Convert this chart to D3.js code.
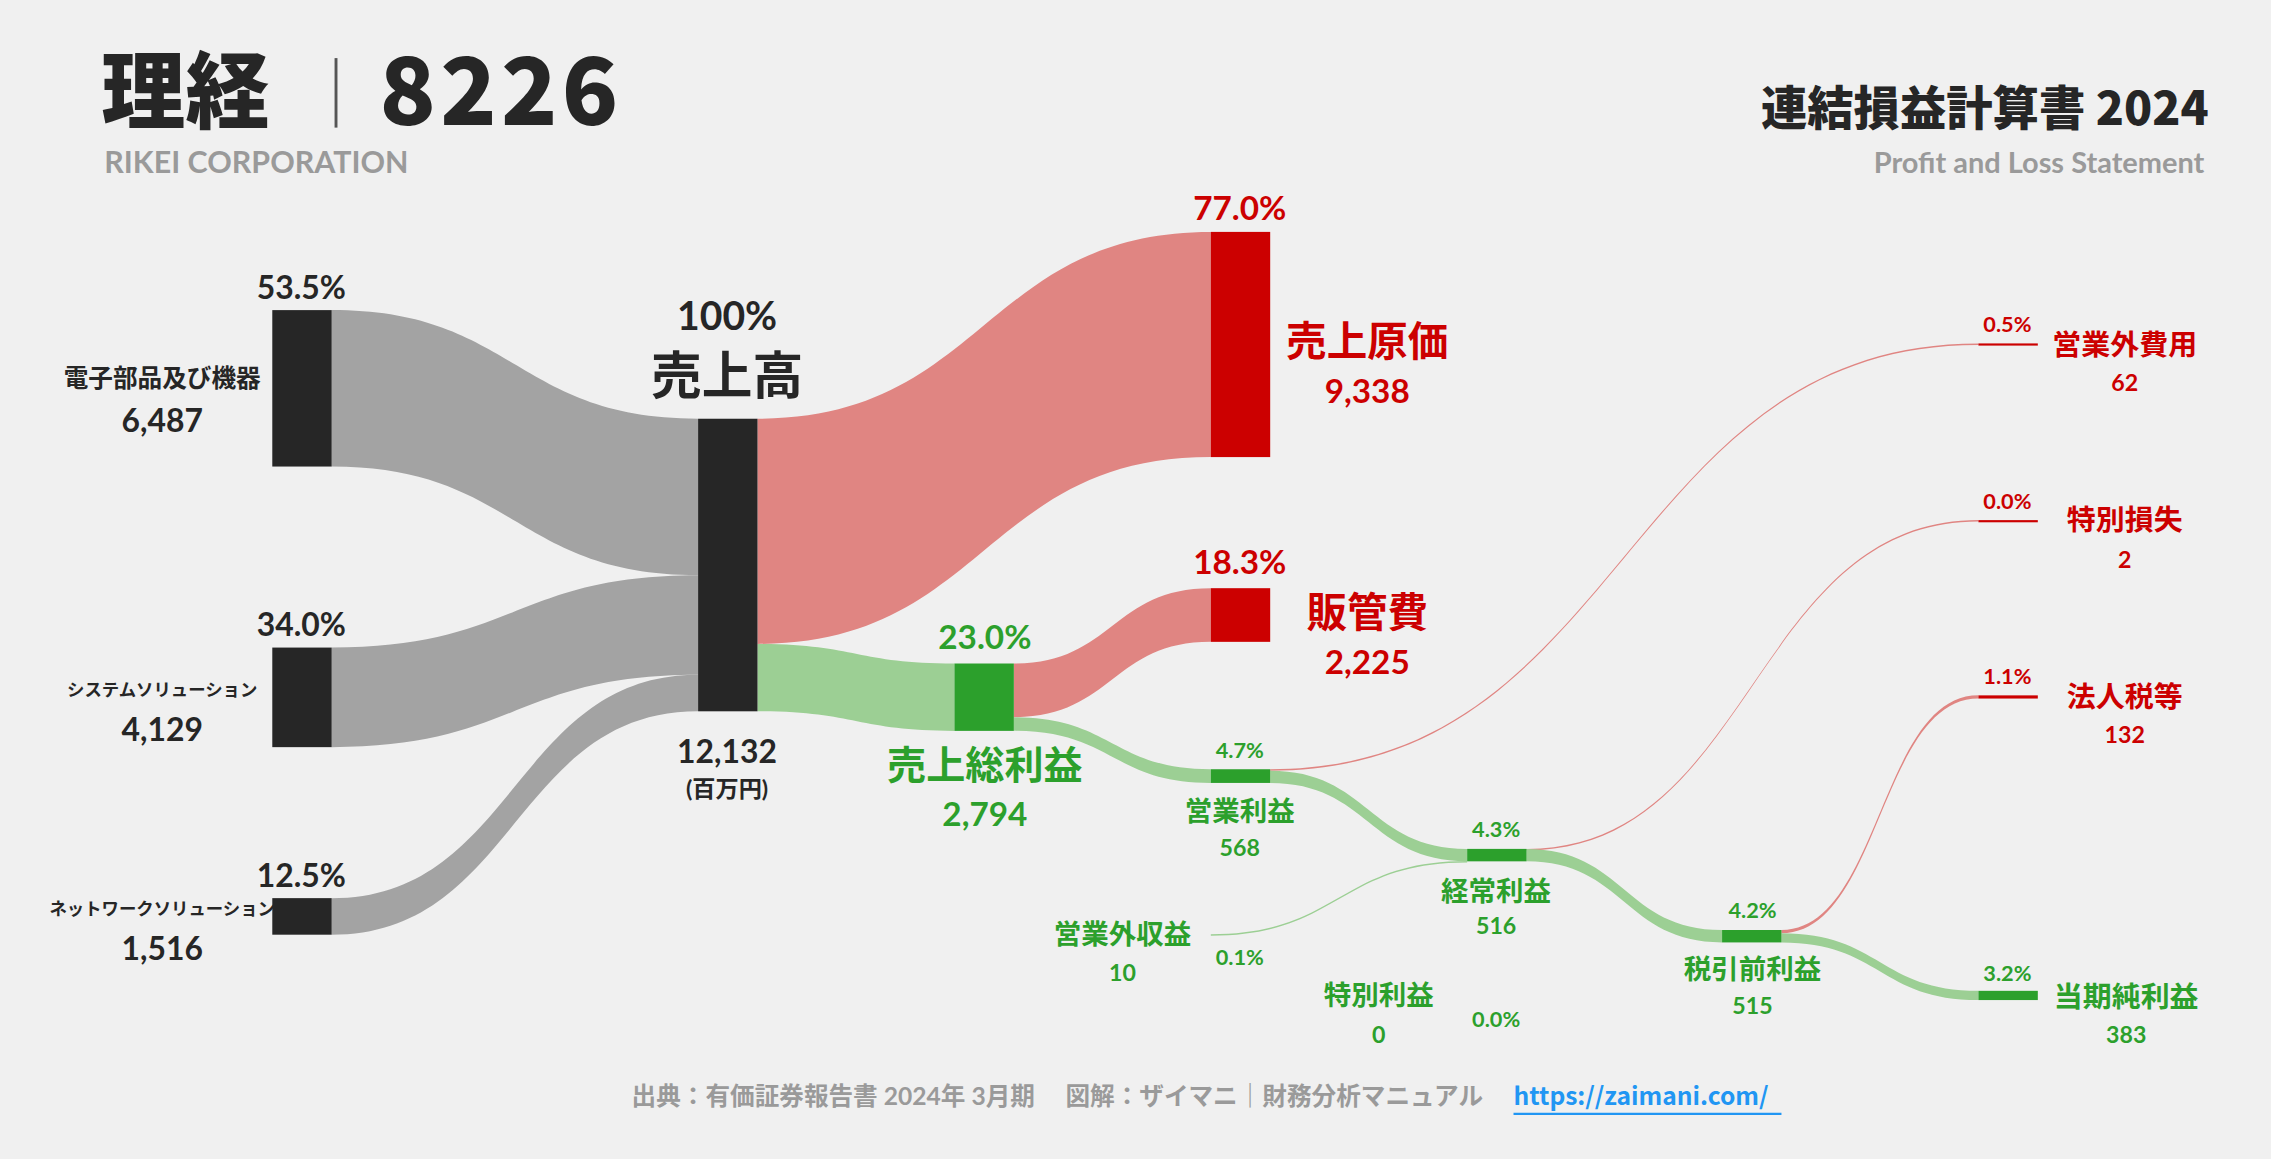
<!DOCTYPE html>
<html><head><meta charset="utf-8">
<script src="https://cdn.jsdelivr.net/npm/d3@7"></script>
<style>html,body{margin:0;padding:0;background:#f0f0f0;}svg{display:block;font-family:Lato,"Noto Sans CJK JP",sans-serif;}</style>
</head><body><svg id="c" width="2271" height="1159" viewBox="0 0 1568 800"></svg>
<script>
const sourceNames=["電子部品及び機器","システムソリューション","ネットワークソリューション"];
const sourceValues=[6487,4129,1516];
const sourcePct=["53.5%","34.0%","12.5%"];
const revenue=12132;
const costNames=["売上原価","販管費"];const costValues=[9338,2225];const costPct=["77.0%","18.3%"];
const grossProfit=2794;
const profitNames=["営業利益","経常利益","税引前利益","当期純利益"];
const profitValues=[568,516,515,383];const profitPct=["4.7%","4.3%","4.2%","3.2%"];
const expNames=["営業外費用","特別損失","法人税等"];const expValues=[62,2,132];const expPct=["0.5%","0.0%","1.1%"];
const incNames=["営業外収益","特別利益"];const incValues=[10,0];const incPct=["0.1%","0.0%"];

const svg=d3.select("#c");
const s=d3.scaleLinear().domain([0,revenue]).range([0,202]);
const fmt=d3.format(",");
const W=41;
const C={gray:"#262626",glink:"#a3a3a3",red:"#cc0000",rlink:"#e08582",green:"#2ca02c",gnlink:"#9ccf94",txt:"#262626"};
function band(x0,y0,x1,y1,h,col,minH){
  h=Math.max(h,minH||0);
  const m=(x0+x1)/2;
  const p=`M${x0},${y0}C${m},${y0} ${m},${y1} ${x1},${y1}L${x1},${y1+h}C${m},${y1+h} ${m},${y0+h} ${x0},${y0+h}Z`;
  svg.append("path").attr("d",p).attr("fill",col);
}
function node(x,y,v,col,minH){svg.append("rect").attr("x",x).attr("y",y).attr("width",W).attr("height",Math.max(s(v),minH||0)).attr("fill",col);}
function t(x,y,str,size,col,anchor,weight){return svg.append("text").attr("x",x).attr("y",y).attr("font-size",size).attr("fill",col).attr("text-anchor",anchor||"middle").attr("font-weight",weight||"bold").text(str);}

t(70,84,"理経",58,C.txt,"start","900").attr("font-family","Noto Sans CJK JP");
svg.append("line").attr("x1",232).attr("x2",232).attr("y1",40).attr("y2",88).attr("stroke","#555").attr("stroke-width",2);
t(262,86,"8226",64,C.txt,"start","900").attr("font-family","Noto Sans CJK JP").attr("letter-spacing",3);
t(72,119,"RIKEI CORPORATION",21,"#9a9a9a","start","bold");
t(1525,86,"連結損益計算書 2024",32,C.txt,"end","900").attr("font-family","Noto Sans CJK JP");
t(1522,119,"Profit and Loss Statement",20,"#9a9a9a","end","bold");

const srcX=188, cX=482;
const srcTops=[214,447,620];
let acc=289;
sourceValues.forEach((v,i)=>{
  band(srcX+W,srcTops[i],cX,acc,s(v),C.glink);
  acc+=s(v);
});
sourceValues.forEach((v,i)=>{
  node(srcX,srcTops[i],v,C.gray);
  t(208,srcTops[i]-8,sourcePct[i],22,C.txt);
  t(112,srcTops[i]+s(v)/2-1,sourceNames[i],i==0?17:12,C.txt);
  t(112,srcTops[i]+s(v)/2+30,fmt(v),22,C.txt);
});
const cTop=289;
const cosX=836, cosTop=160;
band(cX+W,cTop,cosX,cosTop,s(costValues[0]),C.rlink);
const gpX=659,gpTop=458;
band(cX+W,cTop+s(costValues[0]),gpX,gpTop,s(grossProfit),C.gnlink);
const sgaTop=406;
band(gpX+W,gpTop,cosX,sgaTop,s(costValues[1]),C.rlink);
const pX=[836,1013,1189,1366], pTop=[531,586,642,684];
band(gpX+W,gpTop+s(costValues[1]),pX[0],pTop[0],s(profitValues[0]),C.gnlink);
const eX=1366,eTop=[237,359,480];
band(pX[0]+W,pTop[0],eX,eTop[0],s(expValues[0]),C.rlink,1);
band(pX[0]+W,pTop[0]+s(expValues[0]),pX[1],pTop[1],s(profitValues[0]-expValues[0]),C.gnlink);
band(pX[0],645,pX[1],pTop[1]+s(profitValues[0]-expValues[0]),s(incValues[0]),C.gnlink,1);
band(pX[1]+W,pTop[1],eX,eTop[1],s(expValues[1]),C.rlink,1);
band(pX[1]+W,pTop[1]+s(expValues[1]),pX[2],pTop[2],s(profitValues[1]-expValues[1]),C.gnlink);
band(pX[2]+W,pTop[2],eX,eTop[2],s(expValues[2]),C.rlink,1);
band(pX[2]+W,pTop[2]+s(expValues[2]),pX[3],pTop[3],s(profitValues[3]),C.gnlink);

node(cX,cTop,revenue,C.gray);
node(cosX,cosTop,costValues[0],C.red);
node(cosX,sgaTop,costValues[1],C.red);
node(gpX,gpTop,grossProfit,C.green);
profitValues.forEach((v,i)=>node(pX[i],pTop[i],v,C.green));
expValues.forEach((v,i)=>node(eX,eTop[i],v,C.red,1.5));

t(502,228,"100%",27,C.txt);t(502,272,"売上高",35,C.txt);
t(502,527,fmt(revenue),22,C.txt);t(502,550,"(百万円)",16,C.txt);
t(856,152,costPct[0],23,C.red);t(944,246,costNames[0],28,C.red);t(944,278,fmt(costValues[0]),23,C.red);
t(856,396,costPct[1],23,C.red);t(944,433,costNames[1],28,C.red);t(944,465,fmt(costValues[1]),23,C.red);
t(680,448,"23.0%",23,C.green);t(680,538,"売上総利益",27,C.green);t(680,570,fmt(grossProfit),23,C.green);
const pLab=[[856,523,567,591],[1033,578,622,645],[1210,634,676,700]];
pLab.forEach((p,i)=>{t(p[0],p[1],profitPct[i],15,C.green);t(p[0],p[2],profitNames[i],19,C.green);t(p[0],p[3],fmt(profitValues[i]),16,C.green);});
t(1386,677,profitPct[3],15,C.green);t(1468,695,profitNames[3],20,C.green);t(1468,720,fmt(profitValues[3]),16,C.green);
const eLab=[[229,245,270],[351,366,392],[472,488,513]];
eLab.forEach((p,i)=>{t(1386,p[0],expPct[i],15,C.red);t(1467,p[1],expNames[i],20,C.red);t(1467,p[2],fmt(expValues[i]),16,C.red);});
t(775,652,incNames[0],19,C.green);t(775,677,fmt(incValues[0]),16,C.green);t(856,666,incPct[0],15,C.green);
t(952,694,incNames[1],19,C.green);t(952,720,fmt(incValues[1]),16,C.green);t(1033,709,incPct[1],15,C.green);

t(1024,763,"出典：有価証券報告書 2024年 3月期　 図解：ザイマニ｜財務分析マニュアル",17,"#9a9a9a","end","bold");
t(1045,763,"https://zaimani.com/",17,"#2196f3","start","bold").attr("font-family","Noto Sans CJK JP");
svg.append("line").attr("x1",1045).attr("x2",1230).attr("y1",769).attr("y2",769).attr("stroke","#2196f3").attr("stroke-width",1.5);
</script></body></html>
